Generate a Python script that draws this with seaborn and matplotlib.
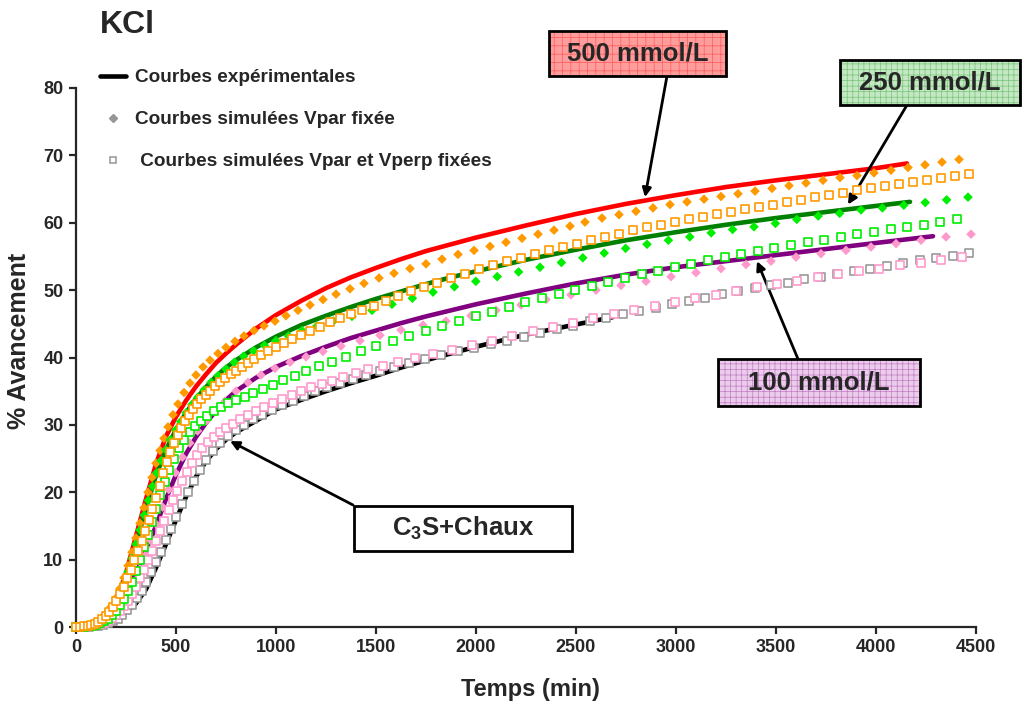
import matplotlib
matplotlib.use("Agg")
import matplotlib.pyplot as plt
import seaborn as sns
from matplotlib.lines import Line2D
from matplotlib.patches import Rectangle

# Experimental curves (time in min, % advancement)
red_exp = [(0, 0), (50, 0.1), (100, 0.4), (150, 1.5), (200, 3.8), (250, 8.0), (300, 13.5), (350, 19.0),
           (400, 24.2), (450, 28.3), (500, 31.2), (550, 33.6), (600, 35.7), (650, 37.5), (700, 39.2),
           (750, 40.6), (800, 41.9), (900, 44.3), (1000, 46.3), (1125, 48.4), (1250, 50.3), (1375, 51.9),
           (1500, 53.3), (1625, 54.6), (1750, 55.8), (1875, 56.8), (2000, 57.8), (2250, 59.6),
           (2500, 61.3), (2750, 62.8), (3000, 64.1), (3250, 65.3), (3500, 66.3), (3750, 67.2), (4000, 68.1),
           (4155, 68.8)]
green_exp = [(0, 0), (50, 0.1), (100, 0.4), (150, 1.4), (200, 3.5), (250, 7.3), (300, 12.3), (350, 17.6),
             (400, 22.5), (450, 26.3), (500, 29.3), (550, 31.8), (600, 33.9), (650, 35.6), (700, 37.2),
             (750, 38.5), (800, 39.6), (900, 41.5), (1000, 43.1), (1125, 44.8), (1250, 46.2), (1375, 47.5),
             (1500, 48.7), (1625, 49.8), (1750, 50.9), (1875, 51.9), (2000, 52.8), (2250, 54.5),
             (2500, 56.0), (2750, 57.4), (3000, 58.6), (3250, 59.7), (3500, 60.7), (3750, 61.6), (4000, 62.5),
             (4170, 63.1)]
purple_exp = [(0, 0), (50, 0.05), (100, 0.3), (150, 1.0), (200, 2.5), (250, 5.0), (300, 8.0), (350, 11.4),
              (400, 15.0), (450, 19.0), (500, 22.6), (550, 25.7), (600, 28.2), (650, 30.3), (700, 32.1),
              (750, 33.7), (800, 35.0), (900, 37.0), (1000, 38.6), (1125, 40.2), (1250, 41.6), (1375, 42.9),
              (1500, 44.0), (1625, 45.1), (1750, 46.1), (1875, 47.0), (2000, 47.9), (2250, 49.5),
              (2500, 51.0), (2750, 52.3), (3000, 53.4), (3250, 54.3), (3500, 55.2), (3750, 56.1), (4000, 57.0),
              (4285, 58.0)]
black_exp = [(0, 0), (100, 0.1), (200, 1.0), (300, 3.5), (350, 5.6), (400, 8.8), (450, 12.3), (500, 15.9),
             (550, 19.3), (600, 22.3), (650, 24.6), (700, 26.4), (750, 27.8), (800, 28.9), (900, 30.6),
             (1000, 32.3), (1125, 33.7), (1250, 35.0), (1375, 36.2), (1500, 37.3), (1625, 38.5), (1750, 39.6),
             (1875, 40.6), (2000, 41.6), (2250, 43.4), (2500, 44.9), (2685, 46.0)]

# Simulated curves, Vpar fixed (diamonds)
orange_diamonds = [(0, 0), (25, 0.05), (50, 0.15), (75, 0.35), (100, 0.7), (125, 1.2), (150, 2.0), (175, 3.0),
                   (200, 4.3), (220, 5.7), (240, 7.3), (260, 9.1), (280, 11.1), (300, 13.2), (320, 15.4),
                   (340, 17.7), (360, 20.0), (380, 22.2), (400, 24.3), (420, 26.2), (440, 28.0), (460, 29.7),
                   (485, 31.5), (510, 33.1), (540, 34.8), (570, 36.2), (600, 37.4), (635, 38.6), (670, 39.6),
                   (710, 40.6), (750, 41.5), (795, 42.4), (840, 43.2), (890, 44.0), (940, 44.7), (995, 45.4),
                   (1050, 46.2), (1110, 47.0), (1170, 47.8), (1235, 48.6), (1300, 49.4), (1370, 50.2),
                   (1440, 51.0), (1515, 51.8), (1590, 52.5), (1670, 53.2), (1750, 53.9), (1830, 54.6),
                   (1910, 55.3), (1990, 55.9), (2070, 56.5), (2150, 57.1), (2230, 57.7), (2310, 58.3),
                   (2390, 58.9), (2470, 59.5), (2545, 60.1), (2630, 60.7), (2715, 61.2), (2800, 61.7),
                   (2885, 62.2), (2970, 62.7), (3055, 63.1), (3140, 63.5), (3225, 63.9), (3310, 64.3),
                   (3395, 64.7), (3480, 65.1), (3565, 65.5), (3650, 65.9), (3735, 66.3), (3820, 66.7),
                   (3905, 67.0), (3990, 67.4), (4075, 67.8), (4160, 68.2), (4245, 68.6), (4330, 69.0),
                   (4415, 69.4)]
green_diamonds = [(0, 0), (20, 0.02), (40, 0.06), (60, 0.12), (80, 0.22), (100, 0.4), (120, 0.7), (140, 1.15),
                  (160, 1.75), (180, 2.5), (200, 3.5), (220, 4.8), (240, 6.4), (260, 8.2), (280, 10.2),
                  (300, 12.3), (320, 14.4), (341, 16.6), (362, 18.8), (383, 20.9), (404, 22.9), (426, 24.7),
                  (449, 26.3), (473, 27.8), (498, 29.2), (524, 30.5), (551, 31.8), (579, 33.0), (609, 34.1),
                  (641, 35.2), (675, 36.3), (711, 37.3), (750, 38.3), (792, 39.3), (838, 40.2), (888, 41.0),
                  (942, 41.8), (1000, 42.5), (1062, 43.2), (1130, 44.0), (1205, 44.7), (1287, 45.4),
                  (1380, 46.1), (1480, 47.0), (1580, 47.9), (1682, 48.8), (1785, 49.7), (1892, 50.5),
                  (1999, 51.3), (2106, 52.0), (2213, 52.7), (2320, 53.4), (2427, 54.1), (2534, 54.8),
                  (2641, 55.5), (2748, 56.2), (2855, 56.8), (2962, 57.4), (3069, 57.9), (3176, 58.5),
                  (3283, 59.0), (3390, 59.4), (3497, 59.9), (3604, 60.5), (3711, 61.0), (3818, 61.4),
                  (3925, 61.9), (4032, 62.2), (4139, 62.6), (4246, 63.0), (4353, 63.4), (4460, 63.8)]
pink_diamonds = [(0, 0), (12, 0.0), (23, 0.01), (34, 0.02), (46, 0.04), (59, 0.07), (73, 0.12), (88, 0.2),
                 (104, 0.32), (121, 0.5), (139, 0.75), (158, 1.1), (178, 1.6), (199, 2.2), (221, 3.0),
                 (244, 4.0), (268, 5.3), (293, 6.8), (319, 8.6), (346, 10.6), (374, 12.8), (403, 15.2),
                 (433, 17.8), (464, 20.4), (497, 22.9), (532, 25.2), (569, 27.3), (608, 29.1), (650, 30.6),
                 (695, 32.0), (745, 33.5), (800, 35.0), (860, 36.3), (925, 37.4), (995, 38.4), (1070, 39.3),
                 (1150, 40.1), (1235, 40.9), (1325, 41.7), (1420, 42.5), (1520, 43.3), (1625, 44.1),
                 (1735, 44.8), (1850, 45.4), (1975, 46.2), (2100, 47.0), (2225, 47.8), (2350, 48.6),
                 (2475, 49.3), (2600, 50.0), (2725, 50.7), (2850, 51.3), (2975, 52.0), (3100, 52.6),
                 (3225, 53.2), (3350, 53.8), (3475, 54.3), (3600, 54.9), (3725, 55.4), (3850, 55.9),
                 (3975, 56.4), (4100, 56.9), (4225, 57.4), (4350, 57.9), (4475, 58.3)]

# Simulated curves, Vpar and Vperp fixed (open squares)
orange_squares = [(0, 0), (20, 0.02), (40, 0.08), (58, 0.15), (76, 0.3), (94, 0.5), (112, 0.8), (130, 1.2),
                  (148, 1.7), (166, 2.3), (184, 3.0), (202, 3.9), (220, 4.9), (238, 6.0), (256, 7.2),
                  (274, 8.5), (292, 9.9), (310, 11.3), (328, 12.8), (346, 14.3), (364, 15.9), (382, 17.5),
                  (400, 19.2), (418, 21.0), (436, 22.8), (454, 24.5), (472, 26.0), (490, 27.3), (508, 28.5),
                  (527, 29.6), (546, 30.6), (565, 31.5), (585, 32.3), (605, 33.1), (626, 33.8), (648, 34.5),
                  (671, 35.1), (695, 35.7), (720, 36.3), (746, 36.9), (773, 37.5), (801, 38.0), (830, 38.6),
                  (860, 39.2), (892, 39.8), (926, 40.4), (962, 41.0), (1000, 41.6), (1040, 42.2),
                  (1082, 42.8), (1126, 43.4), (1172, 44.0), (1220, 44.6), (1270, 45.2), (1322, 45.8),
                  (1376, 46.4), (1432, 47.0), (1490, 47.7), (1550, 48.4), (1612, 49.1), (1675, 49.8),
                  (1740, 50.5), (1805, 51.1), (1875, 51.8), (1945, 52.4), (2015, 53.1), (2085, 53.7),
                  (2155, 54.3), (2225, 54.8), (2295, 55.4), (2365, 55.9), (2435, 56.4), (2505, 56.9),
                  (2575, 57.4), (2645, 57.95), (2715, 58.4), (2785, 58.85), (2855, 59.3), (2925, 59.7),
                  (2995, 60.1), (3065, 60.5), (3135, 60.9), (3205, 61.3), (3275, 61.6), (3345, 62.0),
                  (3415, 62.35), (3485, 62.7), (3555, 63.05), (3625, 63.4), (3695, 63.75), (3765, 64.1),
                  (3835, 64.45), (3905, 64.8), (3975, 65.1), (4045, 65.4), (4115, 65.75), (4185, 66.05),
                  (4255, 66.35), (4325, 66.65), (4395, 66.95), (4465, 67.25)]
green_squares = [(0, 0), (20, 0.01), (40, 0.05), (60, 0.1), (80, 0.2), (100, 0.35), (120, 0.55), (140, 0.85),
                 (160, 1.25), (180, 1.75), (200, 2.4), (220, 3.2), (240, 4.1), (260, 5.3), (280, 6.7),
                 (300, 8.3), (320, 10.0), (340, 11.8), (360, 13.7), (380, 15.6), (400, 17.5), (422, 19.6),
                 (444, 21.5), (467, 23.3), (491, 25.0), (516, 26.5), (542, 27.8), (569, 28.9), (597, 29.8),
                 (626, 30.6), (657, 31.3), (690, 32.0), (725, 32.6), (762, 33.2), (801, 33.7), (843, 34.2),
                 (887, 34.7), (934, 35.3), (984, 35.9), (1037, 36.6), (1093, 37.3), (1152, 38.0),
                 (1215, 38.7), (1282, 39.4), (1352, 40.1), (1425, 40.9), (1500, 41.7), (1583, 42.4),
                 (1666, 43.2), (1749, 44.0), (1832, 44.7), (1915, 45.4), (1998, 46.1), (2081, 46.8),
                 (2164, 47.5), (2247, 48.2), (2330, 48.8), (2413, 49.4), (2496, 50.0), (2579, 50.6),
                 (2662, 51.2), (2745, 51.8), (2828, 52.4), (2911, 52.9), (2994, 53.4), (3077, 53.9),
                 (3160, 54.4), (3243, 54.9), (3326, 55.3), (3409, 55.8), (3492, 56.2), (3575, 56.7),
                 (3658, 57.1), (3741, 57.5), (3824, 57.9), (3907, 58.3), (3990, 58.6), (4073, 59.0),
                 (4156, 59.3), (4239, 59.7), (4322, 60.1), (4405, 60.5)]
pink_squares = [(0, 0), (20, 0.01), (40, 0.03), (60, 0.08), (80, 0.15), (100, 0.25), (120, 0.4), (140, 0.6),
                (160, 0.9), (180, 1.3), (200, 1.8), (220, 2.4), (240, 3.1), (260, 3.9), (280, 4.9), (300, 6.0),
                (320, 7.2), (340, 8.5), (360, 9.9), (380, 11.3), (400, 12.7), (421, 14.2), (442, 15.8),
                (463, 17.3), (484, 18.8), (506, 20.2), (529, 21.6), (553, 23.0), (578, 24.3), (604, 25.5),
                (631, 26.5), (659, 27.4), (688, 28.2), (718, 28.9), (750, 29.6), (784, 30.2), (820, 30.8),
                (858, 31.4), (898, 32.0), (940, 32.7), (983, 33.3), (1028, 33.9), (1078, 34.5), (1123, 35.0),
                (1173, 35.6), (1228, 36.1), (1278, 36.5), (1335, 37.1), (1400, 37.7), (1462, 38.3),
                (1535, 38.8), (1612, 39.3), (1695, 39.9), (1787, 40.5), (1880, 41.1), (1980, 41.8),
                (2080, 42.5), (2180, 43.2), (2283, 43.9), (2383, 44.5), (2485, 45.1), (2585, 45.8),
                (2690, 46.4), (2790, 47.0), (2895, 47.6), (2995, 48.2), (3095, 48.8), (3200, 49.3),
                (3300, 49.9), (3405, 50.4), (3505, 50.9), (3605, 51.4), (3710, 51.9), (3810, 52.4),
                (3915, 52.8), (4015, 53.2), (4120, 53.7), (4225, 54.1), (4325, 54.5), (4430, 54.9)]
gray_squares = [(0, 0), (20, 0.0), (40, 0.02), (64, 0.05), (88, 0.1), (112, 0.2), (136, 0.35), (160, 0.55),
                (184, 0.85), (208, 1.25), (232, 1.8), (256, 2.5), (280, 3.3), (304, 4.3), (328, 5.4),
                (352, 6.7), (376, 8.1), (400, 9.6), (424, 11.2), (449, 12.9), (475, 14.6), (502, 16.4),
                (530, 18.2), (559, 20.0), (589, 21.7), (620, 23.3), (652, 24.8), (686, 26.1), (722, 27.3),
                (760, 28.3), (800, 29.2), (842, 30.0), (886, 30.8), (932, 31.5), (980, 32.2), (1031, 32.9),
                (1084, 33.6), (1139, 34.3), (1196, 35.0), (1256, 35.6), (1318, 36.2), (1383, 36.8),
                (1450, 37.4), (1520, 38.0), (1592, 38.6), (1667, 39.2), (1745, 39.8), (1825, 40.4),
                (1908, 40.9), (1990, 41.4), (2073, 42.0), (2155, 42.5), (2238, 43.0), (2320, 43.6),
                (2403, 44.2), (2485, 44.7), (2568, 45.4), (2650, 45.9), (2733, 46.4), (2815, 46.9),
                (2898, 47.4), (2980, 47.9), (3063, 48.4), (3145, 48.9), (3228, 49.4), (3310, 49.8),
                (3393, 50.3), (3475, 50.7), (3558, 51.1), (3640, 51.6), (3723, 52.0), (3805, 52.4),
                (3888, 52.8), (3970, 53.2), (4053, 53.6), (4135, 54.0), (4218, 54.4), (4300, 54.7),
                (4383, 55.1), (4465, 55.5)]

x_ticks = [0, 500, 1000, 1500, 2000, 2500, 3000, 3500, 4000, 4500]
y_ticks = [0, 10, 20, 30, 40, 50, 60, 70, 80]

sns.set_style("ticks")
plt.rcParams['font.family'] = ['Liberation Sans', 'DejaVu Sans']
plt.rcParams['font.weight'] = 'bold'
plt.rcParams['mathtext.fontset'] = 'custom'
plt.rcParams['mathtext.rm'] = 'Liberation Sans:bold'
plt.rcParams['mathtext.bf'] = 'Liberation Sans:bold'
plt.rcParams['mathtext.it'] = 'Liberation Sans:bold'
plt.rcParams['hatch.linewidth'] = 0.5

W, H = 1023, 701
fig = plt.figure(figsize=(W / 100, H / 100), dpi=100)
ax = fig.add_axes([76 / W, 74 / H, 900 / W, 539 / H])


def split(points):
    return [p[0] for p in points], [p[1] for p in points]


# experimental curves
for pts, col in [(red_exp, '#ff0000'), (green_exp, '#008000'),
                 (purple_exp, '#800080'), (black_exp, '#000000')]:
    x, y = split(pts)
    sns.lineplot(x=x, y=y, color=col, linewidth=3.3, sort=False, estimator=None,
                 ax=ax, zorder=2, solid_capstyle='round', solid_joinstyle='round')

# simulated, Vpar fixed
for pts, col in [(orange_diamonds, '#ff9900'), (green_diamonds, '#00ee00'), (pink_diamonds, '#ff99cc')]:
    x, y = split(pts)
    sns.scatterplot(x=x, y=y, marker='D', s=24, color=col, edgecolor='none',
                    ax=ax, zorder=3, clip_on=False)

# simulated, Vpar and Vperp fixed
for pts, col in [(gray_squares, '#999999'), (pink_squares, '#ff99cc'),
                 (green_squares, '#00ee00'), (orange_squares, '#ff9900')]:
    x, y = split(pts)
    sns.scatterplot(x=x, y=y, marker='s', s=28, color='white', edgecolor=col, linewidth=1.2,
                    ax=ax, zorder=4, clip_on=False)

ax.set_xlim(0, 4500)
ax.set_ylim(0, 80)
ax.set_xticks(x_ticks)
ax.set_yticks(y_ticks)
ax.tick_params(labelsize=13, width=1.6, length=5, direction='out', pad=4)
sns.despine(ax=ax)
for side in ['left', 'bottom']:
    ax.spines[side].set_linewidth(1.6)

ax.set_xlabel("Temps (min)", fontsize=17, fontweight='bold')
ax.set_ylabel("% Avancement", fontsize=18, fontweight='bold')
ax.xaxis.set_label_coords(0.505, -0.095)
ax.yaxis.set_label_coords(-0.05, 0.53)

fig.text(100 / W, 1 - 25 / H, "KCl", fontsize=23, fontweight='bold', ha='left', va='center')

handles = [Line2D([], [], color='black', lw=3.3),
           Line2D([], [], color='#969696', marker='D', ls='', ms=4.5),
           Line2D([], [], color='#969696', marker='s', ls='', ms=5, mfc='white', mew=1.1)]
labels = ["Courbes expérimentales", "Courbes simulées Vpar fixée", " Courbes simulées Vpar et Vperp fixées"]
ax.legend(handles, labels, loc='upper left', bbox_to_anchor=(100 / W, 1 - 69 / H),
          bbox_transform=fig.transFigure, frameon=False, prop={'weight': 'bold', 'size': 13.7},
          handlelength=1.35, handletextpad=0.5, labelspacing=1.3, borderpad=0, borderaxespad=0)


def label_box(x0, y0, w, h, text, face, hatch_col, hatch):
    rect = (x0 / W, y0 / H)
    fig.add_artist(Rectangle(rect, w / W, h / H, transform=fig.transFigure, facecolor=face,
                             edgecolor=hatch_col, hatch=hatch, lw=0, zorder=5))
    fig.add_artist(Rectangle(rect, w / W, h / H, transform=fig.transFigure, facecolor='none',
                             edgecolor='black', lw=2, zorder=6))
    fig.text((x0 + w / 2) / W, (y0 + h / 2) / H, text, fontsize=18.5, fontweight='bold',
             ha='center', va='center', zorder=7)


label_box(549, 625, 177, 45, "500 mmol/L", '#ff9c9c', '#ff5a5a', '++')
label_box(840, 596, 180, 45, "250 mmol/L", '#c4e8c4', '#78c478', '+++')
label_box(718, 295, 202, 47, "100 mmol/L", '#ecccec', '#c07cc0', '+++')
label_box(354, 150, 218, 45, r"C$_{3}$S+Chaux", 'white', 'white', None)

arrow = dict(arrowstyle='-|>', color='black', lw=2, mutation_scale=13, shrinkA=0, shrinkB=0)
ax.annotate('', xy=(2845, 63.8), xytext=(667, 625), textcoords='figure pixels', arrowprops=arrow)
ax.annotate('', xy=(3860, 62.7), xytext=(907, 596), textcoords='figure pixels', arrowprops=arrow)
ax.annotate('', xy=(3405, 54.3), xytext=(798, 342), textcoords='figure pixels', arrowprops=arrow)
ax.annotate('', xy=(770, 27.6), xytext=(353, 196), textcoords='figure pixels', arrowprops=arrow)

fig.savefig("out.png", dpi=100)
